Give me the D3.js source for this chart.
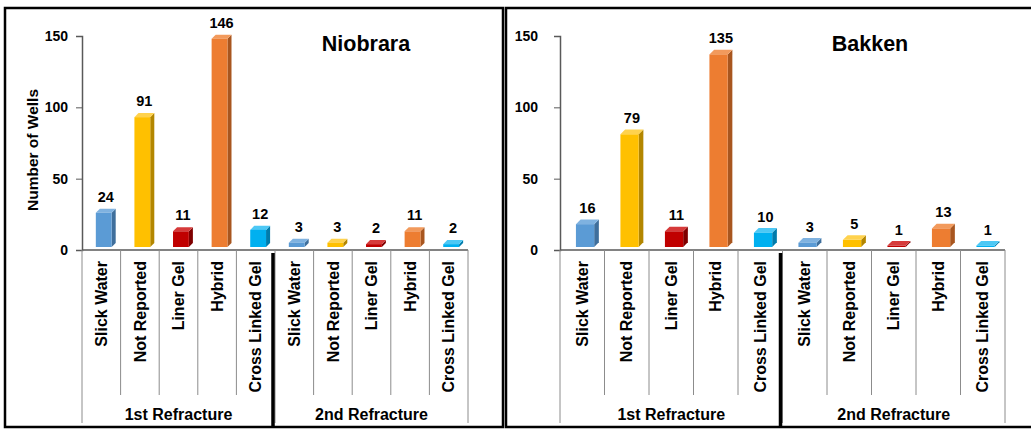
<!DOCTYPE html>
<html>
<head>
<meta charset="utf-8">
<script src="https://cdn.jsdelivr.net/npm/d3@7"></script>
<style>
  body { margin: 0; background: #fff; }
  svg { display: block; font-family: "Liberation Sans", Arial, sans-serif; }
</style>
</head>
<body>
<svg id="chart" width="1031" height="429"></svg>
<script>
// fracture fluid types by refracture, two plays

const categories = ["Slick Water", "Not Reported", "Liner Gel", "Hybrid", "Cross Linked Gel"];
const groups = ["1st Refracture", "2nd Refracture"];
const niobraraValues = [24, 91, 11, 146, 12, 3, 3, 2, 11, 2];
const bakkenValues = [16, 79, 11, 135, 10, 3, 5, 1, 13, 1];
const yTicks = [0, 50, 100, 150];
const frontColors = ["#5b9bd5", "#ffc000", "#c00000", "#ed7d31", "#00b0f0"];
const sideColors = ["#3f6f9c", "#b38600", "#7f0000", "#a8561f", "#007bab"];
const topColors = ["#7fb2e0", "#ffd24d", "#d63a3a", "#f29a5c", "#4dc8f5"];

var svg = d3.select('svg#chart');

function drawPanel(cfg){
    var g = svg.append('g');

    // frame
    g.append('rect')
    .attr('x', cfg.box[0]).attr('y', cfg.box[1])
    .attr('width', cfg.box[2]).attr('height', cfg.box[3])
    .attr('fill', 'none').attr('stroke', '#000').attr('stroke-width', 2.5);

    var keys = d3.range(cfg.values.length);
    var x = d3.scaleBand().domain(keys).range([cfg.x0, cfg.x1]);
    var y = d3.scaleLinear().domain([0, 150]).range([250, 36]);
    var bw = x.bandwidth();
    var barW = bw * 0.41;
    var depth = bw * 0.105;
    var lift = 3;

    // y axis
    var yAxis = d3.axisLeft(y).tickValues(yTicks).tickSize(6).tickPadding(cfg.tickPad);
    var ya = g.append('g').attr('transform', 'translate(' + cfg.x0 + ',0)').call(yAxis);
    ya.select('.domain').attr('stroke', '#595959').attr('stroke-width', 1.5);
    ya.selectAll('.tick line').attr('stroke', '#595959');
    ya.selectAll('.tick text')
    .attr('font-size', 14).attr('font-weight', 'bold').attr('fill', '#000')
    .attr('font-family', '"Liberation Sans", Arial, sans-serif');

    if(cfg.yLabel){
        g.append('text')
        .attr('transform', 'translate(' + cfg.yLabelX + ',150) rotate(-90)')
        .attr('text-anchor', 'middle')
        .attr('font-size', 15.5).attr('font-weight', 'bold')
        .text(cfg.yLabel);
    }

    // title
    g.append('text')
    .attr('x', cfg.titleX).attr('y', 51)
    .attr('text-anchor', 'middle')
    .attr('font-size', 21.5).attr('font-weight', 'bold')
    .text(cfg.title);

    // bars
    var bars = g.append('g').selectAll('g').data(cfg.values).enter().append('g');
    bars.each(function(v, i){
        var c = i % categories.length;
        var sel = d3.select(this);
        var xl = x(i) + bw / 2 - barW / 2 + depth * 0.6;
        var xr = xl + barW;
        var yt = y(v) - lift;
        var yb = y(0) - lift;
        sel.append('path')
        .attr('d', 'M' + xr + ',' + yt + 'L' + (xr + depth) + ',' + (yt - depth) +
            'L' + (xr + depth) + ',' + (yb - depth) + 'L' + xr + ',' + yb + 'Z')
        .attr('fill', sideColors[c]);
        sel.append('path')
        .attr('d', 'M' + xl + ',' + yt + 'L' + (xl + depth) + ',' + (yt - depth) +
            'L' + (xr + depth) + ',' + (yt - depth) + 'L' + xr + ',' + yt + 'Z')
        .attr('fill', topColors[c]);
        sel.append('rect')
        .attr('x', xl).attr('y', yt)
        .attr('width', barW).attr('height', Math.max(0, yb - yt))
        .attr('fill', frontColors[c]);
        sel.append('text')
        .attr('x', xl + (barW + depth) / 2)
        .attr('y', y(v) - 14)
        .attr('text-anchor', 'middle')
        .attr('font-size', 14.5).attr('font-weight', 'bold')
        .text(v);
    });

    // x axis line
    g.append('line')
    .attr('x1', cfg.x0).attr('x2', cfg.x1)
    .attr('y1', 250).attr('y2', 250)
    .attr('stroke', '#595959').attr('stroke-width', 1.5);

    // category dividers
    var bounds = d3.range(cfg.values.length + 1).map(i => cfg.x0 + i * bw);
    g.append('g').selectAll('line').data(bounds).enter().append('line')
    .attr('x1', d => d).attr('x2', d => d)
    .attr('y1', 250)
    .attr('y2', (d, i) => (i % categories.length === 0) ? 423 : 395)
    .attr('stroke', '#8c8c8c').attr('stroke-width', 1);

    // category labels
    g.append('g').selectAll('text').data(cfg.values).enter().append('text')
    .attr('transform', (d, i) => 'translate(' + (x(i) + bw / 2) + ',261) rotate(-90)')
    .attr('text-anchor', 'end')
    .attr('dy', '0.35em')
    .attr('font-size', 16).attr('font-weight', 'bold')
    .text((d, i) => categories[i % categories.length]);

    // group labels
    g.append('g').selectAll('text').data(groups).enter().append('text')
    .attr('x', (d, i) => cfg.x0 + (i * 5 + 2.5) * bw)
    .attr('y', 420)
    .attr('text-anchor', 'middle')
    .attr('font-size', 16).attr('font-weight', 'bold')
    .text(d => d);

    // thick separator between refractures
    var sep = cfg.x0 + 5 * bw - 2;
    g.append('line')
    .attr('x1', sep).attr('x2', sep)
    .attr('y1', 253).attr('y2', cfg.box[1] + cfg.box[3])
    .attr('stroke', '#000').attr('stroke-width', 3.5);
}

drawPanel({
    title: 'Niobrara', values: niobraraValues,
    box: [5, 8, 498, 419], x0: 82, x1: 468, titleX: 366, tickPad: 8,
    yLabel: 'Number of Wells', yLabelX: 37.5
});

drawPanel({
    title: 'Bakken', values: bakkenValues,
    box: [506, 8, 540, 419], x0: 560, x1: 1005, titleX: 870, tickPad: 16,
    yLabel: null
});
</script>
</body>
</html>
